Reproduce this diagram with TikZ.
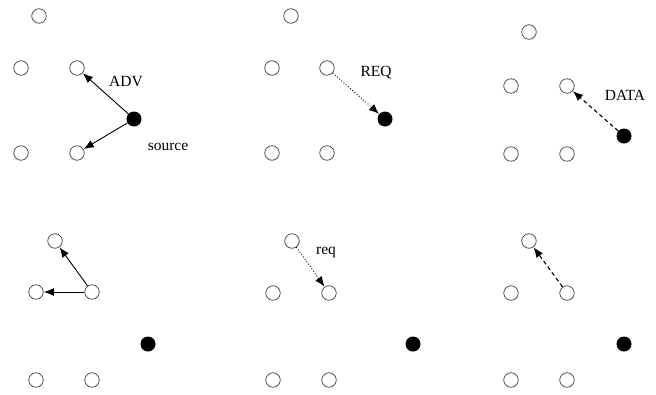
\documentclass[tikz,border=0pt]{standalone}
\usepackage{fontspec}
\setmainfont{Liberation Serif}
\usetikzlibrary{arrows.meta}
\begin{document}
\begin{tikzpicture}[x=1pt,y=-1pt,
  hollow/.style={circle,draw=black!75,line width=0.75pt,minimum size=14.5pt,inner sep=0pt},
  solidn/.style={circle,fill=black,minimum size=15pt,inner sep=0pt},
  arr/.style={-{Latex[length=10pt,width=8pt]},line width=0.9pt,shorten >=0.3pt},
  dotarr/.style={arr,dotted,line width=0.9pt},
  dasharr/.style={arr,dash pattern=on 4pt off 3pt,line width=1.1pt},
  lbl/.style={font=\fontsize{15.5}{17}\selectfont,inner sep=0pt}]
\useasboundingbox (0,0) rectangle (656,394);
% panel 1
\node[hollow] (a1) at (39,16) {};
\node[hollow] (a2) at (21,68) {};
\node[hollow] (a3) at (77,68) {};
\node[solidn] (as) at (134,119) {};
\node[hollow] (a4) at (21,153) {};
\node[hollow] (a5) at (77,153) {};
\draw[arr] (as) -- (a3);
\draw[arr] (as) -- (a5);
\node[lbl] (advl) at (126,81) {ADV};
\node[lbl] (srcl) at (168,147) {source};
% panel 2
\node[hollow] (b1) at (291,16) {};
\node[hollow] (b2) at (272,68) {};
\node[hollow] (b3) at (327,68) {};
\node[solidn] (bs) at (385,119) {};
\node[hollow] (b4) at (272,153) {};
\node[hollow] (b5) at (327,153) {};
\draw[dotarr] (b3) -- (bs);
\node[lbl] (reql) at (376,73) {REQ};
% panel 3
\node[hollow] (c1) at (529,32) {};
\node[hollow] (c2) at (511,86) {};
\node[hollow] (c3) at (567,86) {};
\node[solidn] (cs) at (624,136) {};
\node[hollow] (c4) at (511,154) {};
\node[hollow] (c5) at (567,154) {};
\draw[dasharr] (cs) -- (c3);
\node[lbl] (datal) at (625,95) {DATA};
% panel 4
\node[hollow] (d1) at (55,241) {};
\node[hollow] (d2) at (36,292) {};
\node[hollow] (d3) at (92,292) {};
\node[solidn] (ds) at (148,344) {};
\node[hollow] (d4) at (36,380) {};
\node[hollow] (d5) at (92,380) {};
\draw[arr] (d3) -- (d1);
\draw[arr] (d3) -- (d2);
% panel 5
\node[hollow] (e1) at (292,241) {};
\node[hollow] (e2) at (273,293) {};
\node[hollow] (e3) at (329,293) {};
\node[solidn] (es) at (413,344) {};
\node[hollow] (e4) at (273,380) {};
\node[hollow] (e5) at (329,380) {};
\draw[dotarr] (e1) -- (e3);
\node[lbl] (reql2) at (326,252) {req};
% panel 6
\node[hollow] (f1) at (529,241) {};
\node[hollow] (f2) at (511,293) {};
\node[hollow] (f3) at (567,293) {};
\node[solidn] (fs) at (624,344) {};
\node[hollow] (f4) at (511,380) {};
\node[hollow] (f5) at (567,380) {};
\draw[dasharr] (f3) -- (f1);
\end{tikzpicture}
\end{document}
